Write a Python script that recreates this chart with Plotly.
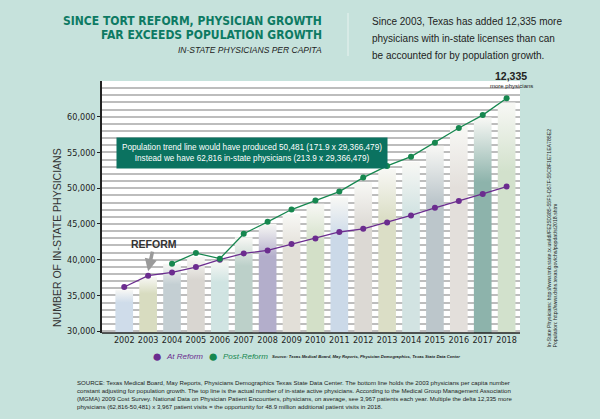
import plotly.graph_objects as go

years = list(range(2002, 2019))
bar_values = [35800, 37600, 39450, 40370, 39900, 43150, 45030, 46420, 47820,
              48740, 50830, 52700, 53720, 55950, 58740, 59900, 62000]
bar_colors = ['#cfdcea', '#d8dcc0', '#c4cfd3', '#d9d6d1', '#d0e4e2', '#bcd0c9',
              '#b3aecb', '#e2dfd8', '#d3e0c8', '#cbd9e8', '#dcd9d4', '#dbdec6',
              '#d2e3e2', '#bcc6cb', '#e3dfdb', '#8db3ab', '#d2e1cc']

at_reform = [36180, 37770, 38230, 38980, 40000, 40880, 41300, 42190, 42980,
             43880, 44330, 45210, 46190, 47260, 48200, 49210, 50230]
post_years = list(range(2004, 2019))
post_reform = [39450, 40930, 40150, 43630, 45300, 47020, 48280, 49530, 51490,
               53120, 54420, 56370, 58420, 60230, 62600]

tick_vals = list(range(30000, 60001, 5000))
tick_text = ['{:,}'.format(v) for v in tick_vals]

BG = '#c6e2dc'
TEAL = '#0d7a63'
PURPLE = '#6b2c8f'
GREEN = '#16874f'

# plot area in pixels (600x419 page)
L, R, T, B = 102, 520, 81, 333
W, H = 600, 419

def px(x):
    return (x - L) / (R - L)

def py(y):
    return (B - y) / (B - T)

fig = go.Figure()

half = 0.37
base = 29750
for yr, val, col in zip(years, bar_values, bar_colors):
    fig.add_trace(go.Scatter(
        x=[yr - half, yr - half, yr + half, yr + half],
        y=[base, val, val, base],
        fill='toself', mode='none', hoverinfo='skip', showlegend=False,
        fillgradient=dict(type='vertical',
                          colorscale=[[0, col], [0.7, col], [1, '#f8f8f5']],
                          start=base, stop=val)))

fig.add_trace(go.Scatter(x=years, y=at_reform, mode='lines+markers',
                         line=dict(color=PURPLE, width=1.3),
                         marker=dict(color=PURPLE, size=6), showlegend=False))
fig.add_trace(go.Scatter(x=post_years, y=post_reform, mode='lines+markers',
                         line=dict(color=GREEN, width=1.3),
                         marker=dict(color=GREEN, size=6), showlegend=False))

ann = []

def text(x, y, s, size, color='#222', family='Liberation Sans', xa='left', ya='middle', angle=0, align='left'):
    ann.append(dict(x=px(x), y=py(y), xref='paper', yref='paper', text=s, showarrow=False,
                    xanchor=xa, yanchor=ya, textangle=angle, align=align,
                    font=dict(size=size, color=color, family=family)))

text(324, 21, '<b>SINCE TORT REFORM, PHYSICIAN GROWTH</b>', 12, TEAL, 'DejaVu Sans Condensed', xa='right')
text(324, 35, '<b>FAR EXCEEDS POPULATION GROWTH</b>', 12, TEAL, 'DejaVu Sans Condensed', xa='right')
text(324, 50, '<i>IN-STATE PHYSICIANS PER CAPITA</i>', 8.5, '#222', 'Liberation Sans', xa='right')

text(370, 22, 'Since 2003, Texas has added 12,335 more', 10)
text(370, 39, 'physicians with in-state licenses than can', 10)
text(370, 56, 'be accounted for by population growth.', 10)

text(57, 238, 'NUMBER OF IN-STATE PHYSICIANS', 10.5, '#333', xa='center', angle=-90)

text(511, 76, '<b>12,335</b>', 10.5, '#222', xa='center')
text(511, 86, 'more physicians', 6, '#222', xa='center')

# callout box
ann.append(dict(x=px(252), y=py(153), xref='paper', yref='paper', showarrow=False,
                xanchor='center', yanchor='middle',
                text='Population trend line would have produced 50,481 (171.9 x 29,366,479)<br>'
                     'Instead we have 62,816 in-state physicians (213.9 x 29,366,479)',
                bgcolor='#0b7260', borderpad=5, align='center',
                font=dict(size=8.2, color='white', family='Liberation Sans')))

# reform arrow
ann.append(dict(x=2003, y=38400, xref='x', yref='y', text='<b>REFORM</b>',
                showarrow=True, ax=6, ay=-27, arrowcolor='#9a9a9a', arrowwidth=3.5,
                arrowhead=2, arrowsize=0.7, standoff=0,
                font=dict(size=10.5, color='#333', family='Liberation Sans')))

# legend row
text(157, 356, '\u25cf', 17, PURPLE, xa='center')
text(164, 356, '<i>At Reform</i>', 8, PURPLE)
text(213, 356, '\u25cf', 17, GREEN, xa='center')
text(221, 356, '<i>Post-Reform</i>', 8, GREEN)
text(270, 356, '<b><i>Source: Texas Medical Board, May Reports, Physician Demographics, Texas State Data Center</i></b>', 4.2, '#222')

# vertical source links
text(552, 350, 'In-State Physicians: http://www.tmb.state.tx.us/idl/FE25D385-55F1-D57F-55C8F1E71EA785E2<br>'
     'Population: http://www.dshs.texas.gov/chs/popdat/st2018.shtm', 5.2, '#222',
     xa='center', ya='bottom', angle=-90, align='left')

footer = ['SOURCE: Texas Medical Board, May Reports, Physicians Demographics Texas State Data Center. The bottom line holds the 2003 physicians per capita number',
          'constant adjusting for population growth. The top line is the actual number of in-state active physicians. According to the Medical Group Management Association',
          '(MGMA) 2009 Cost Survey. National Data on Physician Patient Encounters, physicians, on average, see 3,967 patients each year. Multiple the delta 12,335 more',
          'physicians (62,816-50,481) x 3,967 patient visits = the opportunity for 48.9 million additional patient visits in 2018.']
for i, line in enumerate(footer):
    text(75, 382 + i * 8, line, 6.1, '#222')

fig.update_layout(
    width=W, height=H,
    margin=dict(l=L, r=W - R, t=T, b=H - B, pad=0),
    paper_bgcolor=BG, plot_bgcolor='white',
    font=dict(family='Liberation Sans', color='#222'),
    annotations=ann,
    # separator line between title and blurb
    shapes=[dict(type='line', xref='paper', yref='paper', x0=px(348), x1=px(348),
                 y0=py(13), y1=py(56), line=dict(color='#e8f3f0', width=1))],
    xaxis=dict(range=[2001.07, 2018.56], tickvals=years, ticktext=[str(y) for y in years],
               showgrid=False, zeroline=False, showline=False, ticks='',
               tickfont=dict(size=9, family='DejaVu Sans Condensed', color='#222')),
    yaxis=dict(range=[29750, 65000], tickvals=tick_vals, ticktext=tick_text,
               showgrid=True, gridcolor='#bdbdbd', gridwidth=2,
               minor=dict(dtick=1000, tick0=30000, showgrid=True, gridcolor='#bdbdbd', gridwidth=2),
               zeroline=False, showline=True, linecolor='#222', linewidth=1.5,
               ticks='outside', ticklen=3, tickcolor='#222',
               tickfont=dict(size=9, family='DejaVu Sans Condensed', color='#222')),
)
# bottom axis line
fig.add_shape(type='line', xref='paper', yref='paper', x0=0, x1=1, y0=0, y1=0,
              line=dict(color='#222', width=1.5))

# drop the default page margin so the figure sits at the window's corner
fig.write_html('out.html', config={'displayModeBar': False},
               post_script="document.body.style.margin='0';")
